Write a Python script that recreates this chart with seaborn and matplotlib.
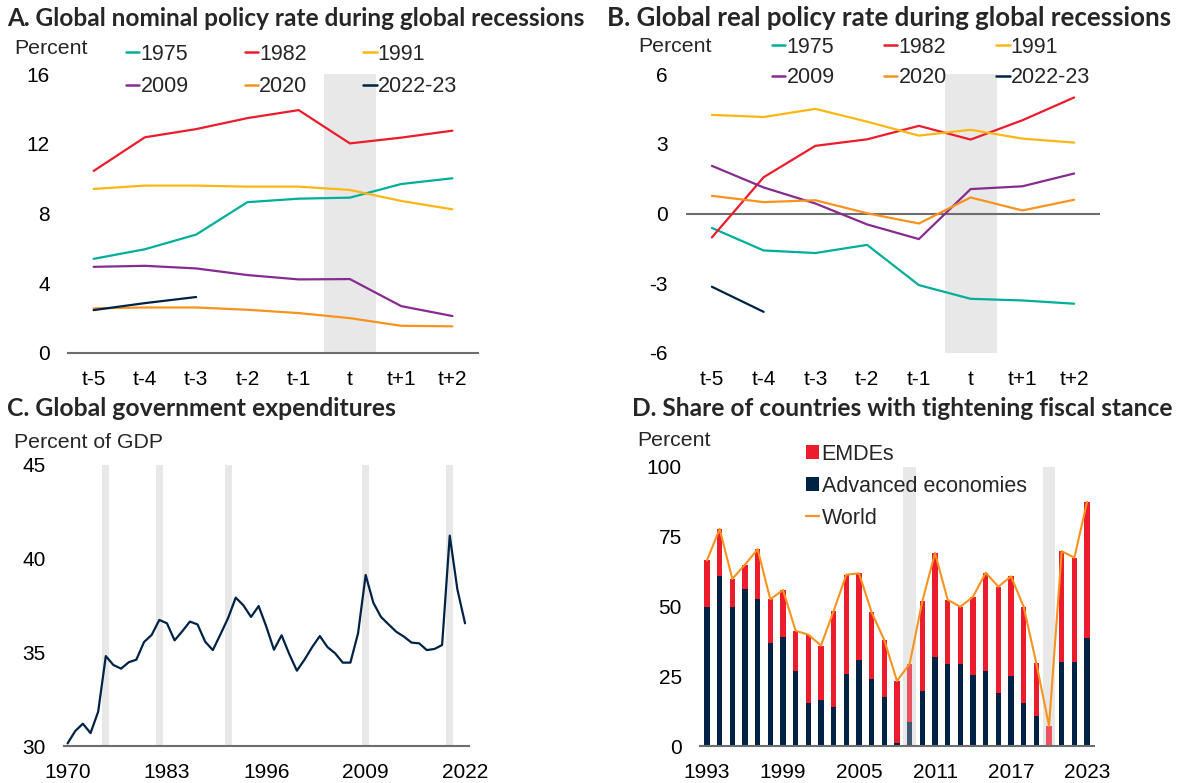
import numpy as np
import pandas as pd
import matplotlib
matplotlib.use("Agg")
import matplotlib.pyplot as plt
import seaborn as sns
from matplotlib.lines import Line2D
from matplotlib.patches import Patch

# ---------------- data ----------------
periods = ["t-5", "t-4", "t-3", "t-2", "t-1", "t", "t+1", "t+2"]
episodes = ["1975", "1982", "1991", "2009", "2020", "2022-23"]

nominal_1975 = [5.40, 5.95, 6.79, 8.65, 8.85, 8.91, 9.69, 10.02]
nominal_1982 = [10.44, 12.37, 12.84, 13.47, 13.93, 12.02, 12.35, 12.75]
nominal_1991 = [9.41, 9.60, 9.60, 9.54, 9.54, 9.35, 8.72, 8.24]
nominal_2009 = [4.94, 5.00, 4.85, 4.47, 4.22, 4.24, 2.69, 2.12]
nominal_2020 = [2.56, 2.61, 2.61, 2.48, 2.29, 2.00, 1.56, 1.53]
nominal_2022 = [2.46, 2.86, 3.21, None, None, None, None, None]

real_1975 = [-0.62, -1.59, -1.70, -1.35, -3.08, -3.67, -3.74, -3.88]
real_1982 = [-1.03, 1.56, 2.91, 3.19, 3.77, 3.18, 4.01, 4.99]
real_1991 = [4.24, 4.15, 4.50, 3.95, 3.35, 3.60, 3.22, 3.05]
real_2009 = [2.05, 1.12, 0.43, -0.47, -1.10, 1.05, 1.17, 1.72]
real_2020 = [0.76, 0.49, 0.57, 0.01, -0.43, 0.69, 0.13, 0.59]
real_2022 = [-3.15, -4.23, None, None, None, None, None, None]

exp_years = list(range(1970, 2023))
expenditure = [30.14, 30.80, 31.19, 30.69, 31.83, 34.80, 34.32, 34.13, 34.47, 34.61,
               35.55, 35.93, 36.73, 36.55, 35.64, 36.12, 36.64, 36.49, 35.57, 35.12,
               35.96, 36.83, 37.92, 37.51, 36.89, 37.47, 36.37, 35.14, 35.91, 34.91,
               34.02, 34.61, 35.28, 35.87, 35.28, 34.95, 34.45, 34.45, 36.01, 39.13,
               37.65, 36.89, 36.49, 36.10, 35.84, 35.52, 35.48, 35.12, 35.18, 35.39,
               41.23, 38.36, 36.55]
recession_years = [1975, 1982, 1991, 2009, 2020]

fiscal_years = list(range(1993, 2024))
world_share = [66.5, 77.8, 59.9, 65.0, 70.5, 52.6, 55.9, 41.3, 39.9, 36.0,
               48.4, 61.4, 61.9, 47.9, 37.9, 23.3, 29.5, 51.9, 69.2, 52.4,
               49.9, 53.5, 62.1, 57.1, 60.8, 49.9, 29.6, 7.2, 69.8, 67.5, 87.5]
ae_share = [49.8, 60.9, 49.8, 56.4, 52.8, 36.8, 38.9, 26.8, 15.4, 16.4,
            14.0, 25.7, 30.8, 23.9, 17.6, 1.0, 8.6, 19.7, 31.9, 29.3,
            29.3, 25.6, 26.8, 19.0, 25.0, 15.4, 10.8, 0.0, 30.1, 30.0, 38.7]
fiscal_recessions = [2009, 2020]

# ---------------- style ----------------
sns.set_theme(style="white")
plt.rcParams["font.family"] = ["Liberation Sans", "DejaVu Sans"]
plt.rcParams["axes.unicode_minus"] = False

colors = {"1975": "#00AE9A", "1982": "#EC1C2D", "1991": "#FDB714",
          "2009": "#872B90", "2020": "#F7931E", "2022-23": "#002345"}
RED = "#EC1C2D"
NAVY = "#002345"
ORANGE = "#F7931E"
SHADE = "#E8E8E8"
AXIS = "#6E6E6E"
TICK_FS = 15
LEG_FS = 15.5
UNIT_FS = 15.3

W, H = 1182, 783
fig = plt.figure(figsize=(W / 100, H / 100), dpi=100)
fig.patch.set_facecolor("white")


def px_axes(left, right, top, bottom):
    return fig.add_axes([left / W, 1 - bottom / H, (right - left) / W, (bottom - top) / H])


def style_axes(ax, bottom_spine=True):
    for s in ["top", "right", "left"]:
        ax.spines[s].set_visible(False)
    if bottom_spine:
        ax.spines["bottom"].set_visible(True)
        ax.spines["bottom"].set_color(AXIS)
        ax.spines["bottom"].set_linewidth(1.5)
    else:
        ax.spines["bottom"].set_visible(False)
    ax.tick_params(axis="both", length=0, labelsize=TICK_FS, colors="black")
    ax.tick_params(axis="y", pad=13)
    ax.tick_params(axis="x", pad=12)
    ax.grid(False)
    ax.set_xlabel("")
    ax.set_ylabel("")


def episode_frame(series_list):
    rows = []
    for ep, vals in zip(episodes, series_list):
        for i, v in enumerate(vals):
            if v is not None:
                rows.append({"pos": i, "value": v, "episode": ep})
    return pd.DataFrame(rows)


def episode_legend(ax, x_px, top_px, colspace, rowspace):
    order = [0, 3, 1, 4, 2, 5]  # column-wise fill -> rows 1975/1982/1991, 2009/2020/2022-23
    handles = [Line2D([0], [0], color=colors[episodes[i]], lw=1.8) for i in order]
    labels = [episodes[i] for i in order]
    ax.legend(handles, labels, ncol=3, frameon=False, fontsize=LEG_FS,
              loc="upper left", bbox_to_anchor=(x_px / W, 1 - top_px / H),
              bbox_transform=fig.transFigure, borderpad=0, borderaxespad=0,
              handlelength=0.62, handletextpad=0.05, columnspacing=colspace,
              labelspacing=rowspace)


# ---------------- Panel A ----------------
axA = px_axes(68, 478, 74, 353)
dfA = episode_frame([nominal_1975, nominal_1982, nominal_1991, nominal_2009, nominal_2020, nominal_2022])
axA.axvspan(4.5, 5.5, color=SHADE, zorder=0, lw=0)
sns.lineplot(data=dfA, x="pos", y="value", hue="episode", palette=colors,
             hue_order=episodes, linewidth=1.6, legend=False, ax=axA)
axA.set_xlim(-0.5, 7.5)
axA.set_ylim(0, 16)
axA.set_yticks([0, 4, 8, 12, 16])
axA.set_xticks(range(len(periods)), periods)
style_axes(axA)
episode_legend(axA, 126, 44, 2.6, 0.52)

# ---------------- Panel B ----------------
axB = px_axes(686, 1100, 74, 353)
dfB = episode_frame([real_1975, real_1982, real_1991, real_2009, real_2020, real_2022])
axB.axvspan(4.5, 5.5, color=SHADE, zorder=0, lw=0)
axB.axhline(0, color=AXIS, lw=1.5, zorder=1)
sns.lineplot(data=dfB, x="pos", y="value", hue="episode", palette=colors,
             hue_order=episodes, linewidth=1.6, legend=False, ax=axB)
axB.set_xlim(-0.5, 7.5)
axB.set_ylim(-6, 6)
axB.set_yticks([-6, -3, 0, 3, 6])
axB.set_xticks(range(len(periods)), periods)
style_axes(axB, bottom_spine=False)
episode_legend(axB, 772, 37, 2.3, 0.42)

# ---------------- Panel C ----------------
axC = px_axes(64, 469, 465, 746)
for yr in recession_years:
    axC.axvspan(yr - 0.47, yr + 0.47, color=SHADE, zorder=0, lw=0)
sns.lineplot(x=exp_years, y=expenditure, color=NAVY, linewidth=1.6, ax=axC)
axC.set_xlim(1969.53, 2022.52)
axC.set_ylim(30, 45)
axC.set_yticks([30, 35, 40, 45])
axC.set_xticks([1970, 1983, 1996, 2009, 2022])
style_axes(axC)

# ---------------- Panel D ----------------
axD = px_axes(700, 1094, 467, 746)
for yr in fiscal_recessions:
    axD.axvspan(yr - 0.5, yr + 0.5, color=SHADE, zorder=0, lw=0)
sns.barplot(x=fiscal_years, y=world_share, native_scale=True, color=RED,
            saturation=1, width=0.42, errorbar=None, linewidth=0, ax=axD, zorder=1)
sns.barplot(x=fiscal_years, y=ae_share, native_scale=True, color=NAVY,
            saturation=1, width=0.42, errorbar=None, linewidth=0, ax=axD, zorder=1.1)
for yr in fiscal_recessions:
    axD.axvspan(yr - 0.5, yr + 0.5, color=SHADE, alpha=0.28, zorder=2, lw=0)
sns.lineplot(x=fiscal_years, y=world_share, color=ORANGE, linewidth=1.5, ax=axD, zorder=3)
axD.set_xlim(1992.45, 2023.55)
axD.set_ylim(0, 100)
axD.set_yticks([0, 25, 50, 75, 100])
axD.set_xticks([1993, 1999, 2005, 2011, 2017, 2023])
style_axes(axD)
handlesD = [Patch(color=RED, lw=0), Patch(color=NAVY, lw=0), Line2D([0], [0], color=ORANGE, lw=1.6)]
axD.legend(handlesD, ["EMDEs", "Advanced economies", "World"], frameon=False,
           fontsize=LEG_FS, loc="upper left", bbox_to_anchor=(806 / W, 1 - 444 / H),
           bbox_transform=fig.transFigure, borderpad=0, borderaxespad=0,
           handlelength=0.62, handleheight=0.62, handletextpad=0.1, labelspacing=0.5)

# ---------------- unit labels ----------------
fig.text(14 / W, 1 - 48 / H, "Percent", fontsize=UNIT_FS, ha="left", va="center")
fig.text(638 / W, 1 - 47 / H, "Percent", fontsize=UNIT_FS, ha="left", va="center")
fig.text(14 / W, 1 - 442 / H, "Percent of GDP", fontsize=UNIT_FS, ha="left", va="center")
fig.text(637 / W, 1 - 441 / H, "Percent", fontsize=UNIT_FS, ha="left", va="center")

# ---------------- titles (fitted to reference widths) ----------------
titles = [("A. Global nominal policy rate during global recessions", 7, 18, 580),
          ("B. Global real policy rate during global recessions", 607, 18, 566),
          ("C. Global government expenditures", 7, 409, 392),
          ("D. Share of countries with tightening fiscal stance", 632, 409, 543)]
renderer = fig.canvas.get_renderer()
for txt, x, y, target in titles:
    t = fig.text(x / W, 1 - y / H, txt, fontsize=16, fontweight="bold",
                 family=["Lato", "DejaVu Sans"], ha="left", va="center")
    wpx = t.get_window_extent(renderer).width
    t.set_fontsize(16 * target / wpx)

fig.savefig("out.png", dpi=100, facecolor="white")
